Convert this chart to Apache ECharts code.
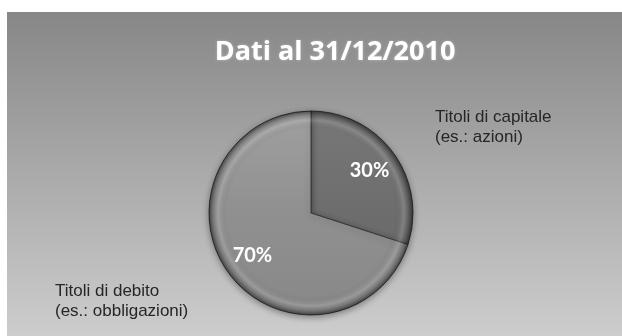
<!DOCTYPE html>
<html>
<head>
<meta charset="utf-8">
<script src="https://cdn.jsdelivr.net/npm/echarts@6/dist/echarts.min.js"></script>
<style>
  html, body { margin: 0; padding: 0; background: #ffffff; width: 622px; height: 336px; overflow: hidden; }
  #chart { position: absolute; left: 7px; top: 12px; width: 615px; height: 324px; }
</style>
</head>
<body>
<div id="chart"></div>
<script>
// ---- data ----
const titleText = 'Dati al 31/12/2010';
const categories = ['Titoli di capitale\n(es.: azioni)', 'Titoli di debito\n(es.: obbligazioni)'];
const values = [30, 70];

// ---- styling / layout (not data) ----
const CX = 304, CY = 201, R = 102;
const namePos = [[428, 95], [48, 269]];
const sliceStops = [
  [['#787878', 0], ['#6d6d6d', 0.5], ['#666666', 1]],
  [['#a0a0a0', 0], ['#909090', 0.5], ['#888888', 1]]
];

const chart = echarts.init(document.getElementById('chart'), null, { renderer: 'canvas' });

const mainData = categories.map((name, i) => ({
  name: name,
  value: values[i],
  itemStyle: {
    color: {
      type: 'linear', x: 0, y: CY - R, x2: 0, y2: CY + R, global: true,
      colorStops: sliceStops[i].map(s => ({ offset: s[1], color: s[0] }))
    }
  }
}));

const overlayData = categories.map((name, i) => ({ name: name, value: values[i] }));

chart.setOption({
  backgroundColor: {
    type: 'linear', x: 0, y: 0, x2: 0, y2: 1,
    colorStops: [
      { offset: 0, color: '#878787' },
      { offset: 0.5, color: '#aaaaaa' },
      { offset: 1, color: '#cdcdcd' }
    ]
  },
  animation: false,
  title: {
    text: titleText,
    left: 323,
    textAlign: 'center',
    top: 18,
    textStyle: {
      fontFamily: 'Open Sans', fontWeight: 'bold', fontSize: 27, lineHeight: 34,
      color: '#ffffff',
      textShadowColor: 'rgba(255,255,255,0.35)', textShadowBlur: 3
    }
  },
  series: [
    {
      type: 'pie',
      center: [CX, CY],
      radius: [0, R],
      startAngle: 90,
      clockwise: true,
      silent: true,
      data: mainData,
      itemStyle: {
        borderColor: '#3a3a3a', borderWidth: 1,
        shadowColor: 'rgba(0,0,0,0.35)', shadowBlur: 6, shadowOffsetY: 2
      },
      label: {
        show: true, position: 'outside', formatter: '{b}',
        fontFamily: 'Liberation Sans', fontSize: 17, lineHeight: 20, color: '#262626'
      },
      labelLine: { show: false },
      labelLayout: function (p) {
        const pos = namePos[p.dataIndex];
        return { x: pos[0], y: pos[1], align: 'left', verticalAlign: 'top' };
      }
    },
    {
      type: 'pie',
      center: [CX, CY],
      radius: [R * 0.36, R],
      startAngle: 90,
      clockwise: true,
      silent: true,
      data: overlayData,
      itemStyle: {
        borderWidth: 0,
        color: {
          type: 'radial', x: CX, y: CY, r: R, global: true,
          colorStops: [
            { offset: 0, color: 'rgba(0,0,0,0)' },
            { offset: 0.82, color: 'rgba(0,0,0,0)' },
            { offset: 0.91, color: 'rgba(255,255,255,0.14)' },
            { offset: 0.96, color: 'rgba(0,0,0,0.15)' },
            { offset: 1, color: 'rgba(0,0,0,0.5)' }
          ]
        }
      },
      label: {
        show: true, position: 'inside', formatter: '{c}%',
        fontFamily: 'Lato', fontWeight: 'bold', fontSize: 20, color: '#ffffff'
      },
      labelLine: { show: false }
    }
  ]
});
</script>
</body>
</html>
